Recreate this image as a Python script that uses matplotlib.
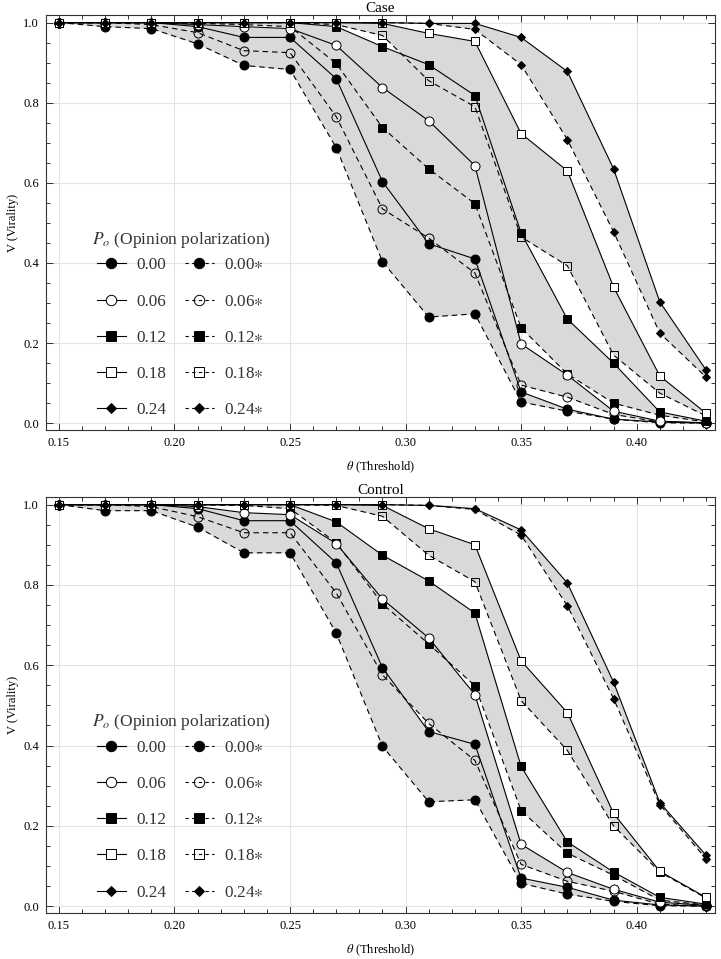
import matplotlib
matplotlib.use("Agg")
import matplotlib.pyplot as plt
from matplotlib.ticker import MultipleLocator
from matplotlib.lines import Line2D

plt.rcParams['font.family'] = ['Liberation Serif', 'DejaVu Serif']
plt.rcParams['mathtext.fontset'] = 'stix'

theta = [0.15, 0.17, 0.19, 0.21, 0.23, 0.25, 0.27, 0.29, 0.31, 0.33, 0.35, 0.37, 0.39, 0.41, 0.43]
po_labels = ["0.00", "0.06", "0.12", "0.18", "0.24"]

# Case panel
case_solid = [
    [1.0, 1.0, 1.0, 0.99, 0.963, 0.963, 0.86, 0.603, 0.448, 0.41, 0.078, 0.035, 0.01, 0.003, 0.001],
    [1.0, 1.0, 1.0, 0.995, 0.99, 0.985, 0.943, 0.838, 0.755, 0.643, 0.198, 0.12, 0.03, 0.005, 0.001],
    [1.0, 1.0, 1.0, 1.0, 1.0, 1.0, 0.99, 0.94, 0.895, 0.818, 0.475, 0.26, 0.15, 0.028, 0.005],
    [1.0, 1.0, 1.0, 1.0, 1.0, 1.0, 1.0, 0.998, 0.973, 0.953, 0.723, 0.63, 0.34, 0.118, 0.025],
    [1.0, 1.0, 1.0, 1.0, 1.0, 1.0, 1.0, 1.0, 0.998, 0.998, 0.963, 0.878, 0.635, 0.303, 0.133],
]
case_star = [
    [1.0, 0.99, 0.985, 0.947, 0.893, 0.883, 0.688, 0.403, 0.265, 0.273, 0.053, 0.03, 0.01, 0.001, 0.0],
    [1.0, 1.0, 0.995, 0.975, 0.93, 0.925, 0.765, 0.535, 0.462, 0.375, 0.095, 0.065, 0.022, 0.003, 0.0],
    [1.0, 1.0, 1.0, 0.998, 0.995, 0.99, 0.898, 0.738, 0.635, 0.548, 0.238, 0.123, 0.05, 0.02, 0.003],
    [1.0, 1.0, 1.0, 1.0, 1.0, 1.0, 0.995, 0.968, 0.855, 0.79, 0.465, 0.393, 0.17, 0.075, 0.018],
    [1.0, 1.0, 1.0, 1.0, 1.0, 1.0, 1.0, 1.0, 0.998, 0.983, 0.895, 0.708, 0.478, 0.225, 0.115],
]

# Control panel
control_solid = [
    [1.0, 1.0, 1.0, 0.99, 0.96, 0.96, 0.855, 0.594, 0.435, 0.403, 0.07, 0.047, 0.015, 0.003, 0.0],
    [1.0, 1.0, 1.0, 0.995, 0.98, 0.975, 0.903, 0.765, 0.668, 0.527, 0.154, 0.084, 0.042, 0.01, 0.002],
    [1.0, 1.0, 1.0, 1.0, 1.0, 1.0, 0.957, 0.874, 0.81, 0.73, 0.348, 0.16, 0.085, 0.022, 0.005],
    [1.0, 1.0, 1.0, 1.0, 1.0, 1.0, 1.0, 0.998, 0.94, 0.90, 0.611, 0.482, 0.231, 0.087, 0.022],
    [1.0, 1.0, 1.0, 1.0, 1.0, 1.0, 1.0, 1.0, 0.998, 0.99, 0.937, 0.805, 0.558, 0.258, 0.127],
]
control_star = [
    [1.0, 0.985, 0.985, 0.944, 0.88, 0.88, 0.68, 0.398, 0.26, 0.265, 0.057, 0.03, 0.012, 0.001, 0.0],
    [1.0, 1.0, 0.995, 0.97, 0.93, 0.93, 0.78, 0.576, 0.455, 0.363, 0.104, 0.062, 0.037, 0.005, 0.0],
    [1.0, 1.0, 1.0, 1.0, 0.998, 0.99, 0.905, 0.753, 0.653, 0.549, 0.238, 0.132, 0.077, 0.015, 0.003],
    [1.0, 1.0, 1.0, 1.0, 1.0, 1.0, 0.998, 0.971, 0.874, 0.808, 0.512, 0.388, 0.20, 0.085, 0.02],
    [1.0, 1.0, 1.0, 1.0, 1.0, 1.0, 1.0, 1.0, 0.998, 0.988, 0.924, 0.748, 0.517, 0.253, 0.118],
]

markers = ['o', 'o', 's', 's', 'D']
filled = [True, False, True, False, True]
msizes = [6.5, 6.5, 5.5, 5.5, 4.2]
FILL = '#d9d9d9'

fig = plt.figure(figsize=(7.21, 9.59), dpi=100)
ax1 = fig.add_axes([46/721, 1-430/959, 669/721, 415/959])
ax2 = fig.add_axes([46/721, 1-913/959, 669/721, 416/959])


def style(ax, title):
    ax.set_xlim(0.1444, 0.4339)
    ax.set_ylim(-0.017, 1.019)
    ax.xaxis.set_major_locator(MultipleLocator(0.05))
    ax.xaxis.set_minor_locator(MultipleLocator(0.01))
    ax.yaxis.set_major_locator(MultipleLocator(0.2))
    ax.yaxis.set_minor_locator(MultipleLocator(0.05))
    ax.xaxis.set_major_formatter(plt.FuncFormatter(lambda v, p: f"{v:.2f}"))
    ax.yaxis.set_major_formatter(plt.FuncFormatter(lambda v, p: f"{v:.1f}"))
    ax.tick_params(which='both', direction='in', top=True, right=True, labelsize=9,
                   color='#333333', width=0.7)
    ax.tick_params(which='major', length=5, pad=5)
    ax.tick_params(which='minor', length=3)
    ax.grid(True, which='major', color='#e3e3e3', lw=0.8, zorder=0)
    ax.set_axisbelow(True)
    for s in ax.spines.values():
        s.set_linewidth(0.8)
        s.set_color('#333333')
    ax.set_title(title, fontsize=11, pad=2)
    ax.set_xlabel(r"$\theta$ (Threshold)", fontsize=9, labelpad=8)
    ax.set_ylabel("V (Virality)", fontsize=9, labelpad=3)


def draw(ax, solid, star):
    for i in range(5):
        ax.fill_between(theta, solid[i], star[i], color=FILL, lw=0, zorder=1)
    for i in range(5):
        mfc_s = 'black' if filled[i] else 'white'
        mfc_d = 'black' if filled[i] else 'none'
        ax.plot(theta, star[i], ls=(0, (5, 3.5)), lw=0.8, color='black', marker=markers[i],
                ms=msizes[i], mfc=mfc_d, mec='black', mew=0.7, zorder=3)
        ax.plot(theta, solid[i], ls='-', lw=0.8, color='black', marker=markers[i],
                ms=msizes[i], mfc=mfc_s, mec='black', mew=0.7, zorder=4)


def legend(ax):
    handles = []
    labels = []
    for i in range(5):
        handles.append(Line2D([], [], ls='-', lw=0.8, color='black', marker=markers[i],
                              ms=msizes[i] + 1, mfc='black' if filled[i] else 'white',
                              mec='black', mew=0.7))
        labels.append(po_labels[i])
    for i in range(5):
        handles.append(Line2D([], [], ls=(0, (3, 3)), lw=0.8, color='black', marker=markers[i],
                              ms=msizes[i] + 1, mfc='black' if filled[i] else 'none',
                              mec='black', mew=0.7))
        labels.append(po_labels[i] + r"$\ast$")
    leg = ax.legend(handles, labels, ncol=2, loc='upper left', bbox_to_anchor=(0.053, 0.453),
                    frameon=False, fontsize=12.3, labelspacing=1.18, handlelength=1.7,
                    handletextpad=0.6, columnspacing=1.1)
    for t in leg.get_texts():
        t.set_color('#333333')
    ax.text(0.0688, 0.458, r"$P_o$ (Opinion polarization)", transform=ax.transAxes,
            fontsize=12.5, color='#333333', ha='left', va='center')


style(ax1, "Case")
draw(ax1, case_solid, case_star)
legend(ax1)
style(ax2, "Control")
draw(ax2, control_solid, control_star)
legend(ax2)

fig.savefig("out.png", dpi=100)
